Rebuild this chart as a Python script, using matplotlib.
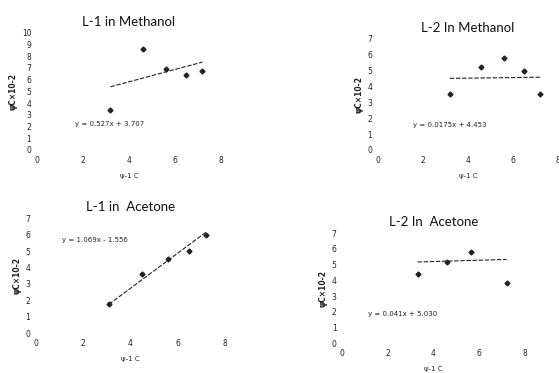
import numpy as np
import matplotlib
matplotlib.use("Agg")
from matplotlib import pyplot as plt

# values
titles = ["L-1 in Methanol", "L-2 In Methanol", "L-1 in  Acetone", "L-2 In  Acetone"]

x_l1_meoh = [3.2, 4.6, 5.6, 6.5, 7.2]
y_l1_meoh = [3.4, 8.6, 6.9, 6.4, 6.7]

x_l2_meoh = [3.2, 4.6, 5.6, 6.5, 7.2]
y_l2_meoh = [3.5, 5.2, 5.8, 5.0, 3.5]

x_l1_acet = [3.1, 4.5, 5.6, 6.5, 7.2]
y_l1_acet = [1.8, 3.6, 4.5, 5.0, 6.0]

x_l2_acet = [3.3, 4.6, 5.65, 7.2]
y_l2_acet = [4.4, 5.15, 5.8, 3.8]

# trendline slope / intercept as printed on the chart
slopes = [0.527, 0.0175, 1.069, 0.041]
intercepts = [3.707, 4.453, -1.556, 5.030]
eq_labels = ["y = 0.527x + 3.707", "y = 0.0175x + 4.453",
             "y = 1.069x - 1.556", "y = 0.041x + 5.030"]

y_max = [10, 7, 7, 7]
x_ticks = [0, 2, 4, 6, 8]

fig = plt.figure(figsize=(5.59, 3.73), dpi=100)
fig.patch.set_facecolor("white")

boxes = [
    [0.066, 0.598, 0.329, 0.314],
    [0.676, 0.598, 0.322, 0.298],
    [0.064, 0.107, 0.338, 0.308],
    [0.612, 0.080, 0.327, 0.295],
]
eq_pos = [(1.65, 2.2), (1.55, 1.6), (1.1, 5.7), (1.13, 1.85)]
xs = [x_l1_meoh, x_l2_meoh, x_l1_acet, x_l2_acet]
ys = [y_l1_meoh, y_l2_meoh, y_l1_acet, y_l2_acet]
ink = "#222222"

for i in range(4):
    ax = fig.add_axes(boxes[i])
    ax.set_xlim(0, 8)
    ax.set_ylim(0, y_max[i])
    ax.set_xticks(x_ticks)
    ax.set_yticks(range(0, y_max[i] + 1))
    ax.tick_params(length=0, labelsize=5.5, colors=ink, pad=4)
    for s in ax.spines.values():
        s.set_visible(False)

    x = np.array(xs[i])
    ax.plot(x, ys[i], linestyle="none", marker="D", markersize=2.5, color=ink)
    xl = np.array([x.min(), x.max()])
    ax.plot(xl, slopes[i] * xl + intercepts[i], color=ink, lw=0.8,
            linestyle=(0, (4, 1.5)))

    ax.text(eq_pos[i][0], eq_pos[i][1], eq_labels[i], fontsize=5, color=ink,
            va="center")
    ax.set_title(titles[i], fontsize=9.5, color="#111111", pad=5,
                 family=["Lato", "DejaVu Sans"])
    ax.set_xlabel("ψ-1 C", fontsize=5, color=ink, labelpad=6)
    ax.set_ylabel("ψC×10-2", fontsize=5.5, color=ink, labelpad=3,
                  fontweight="bold")

fig.savefig("out.png", dpi=100, facecolor="white")
